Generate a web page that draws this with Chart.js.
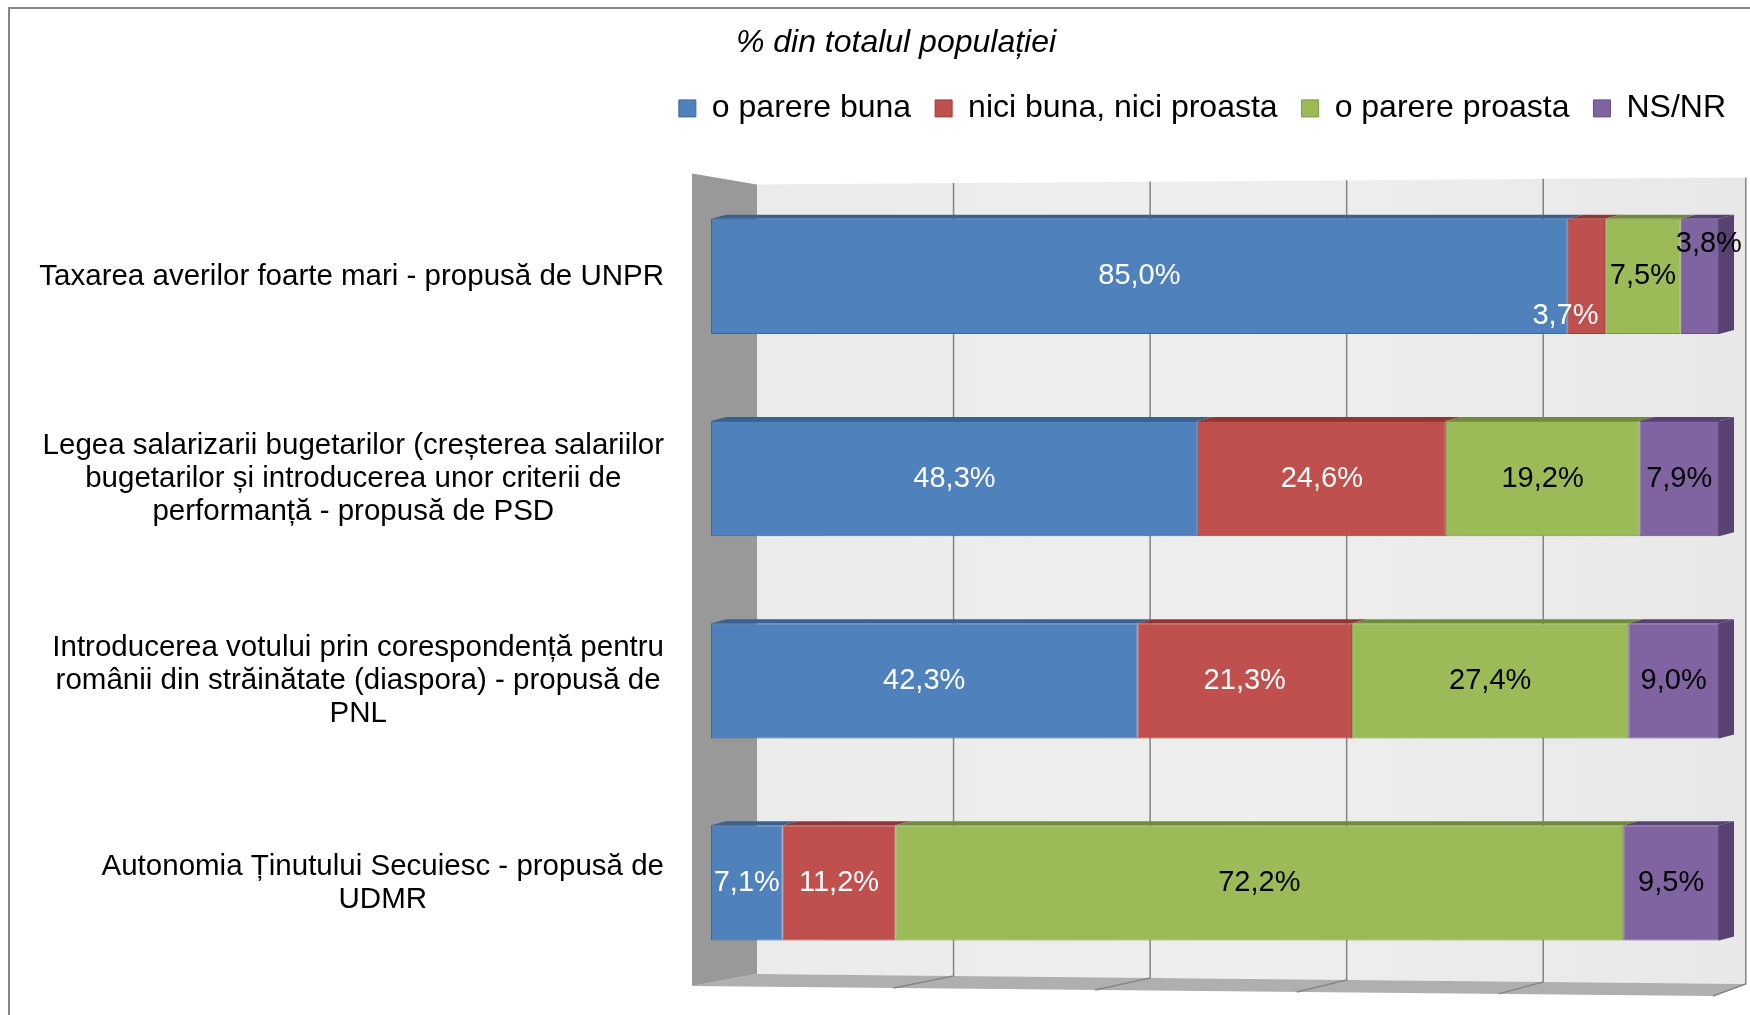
<!DOCTYPE html>
<html>
<head>
<meta charset="utf-8">
<script src="https://cdn.jsdelivr.net/npm/chart.js@4.4.0/dist/chart.umd.min.js"></script>
<style>
  html, body { margin: 0; padding: 0; background: #fff; }
</style>
</head>
<body>
<canvas id="chart" width="1750" height="1015"></canvas>
<script>
// ===== Data =====
const TITLE = '% din totalul populației';
const CATEGORIES = [
  ['Taxarea averilor foarte mari - propusă de UNPR'],
  ['Legea salarizarii bugetarilor (creșterea salariilor', 'bugetarilor și introducerea unor criterii de', 'performanță - propusă de PSD'],
  ['Introducerea votului prin corespondență pentru', 'românii din străinătate (diaspora) - propusă de', 'PNL'],
  ['Autonomia Ținutului Secuiesc - propusă de', 'UDMR']
];
const SERIES_NAMES   = ['o parere buna', 'nici buna, nici proasta', 'o parere proasta', 'NS/NR'];
const PARERE_BUNA    = [85.0, 48.3, 42.3, 7.1];
const NICI_NICI      = [3.7, 24.6, 21.3, 11.2];
const PARERE_PROASTA = [7.5, 19.2, 27.4, 72.2];
const NS_NR          = [3.8, 7.9, 9.0, 9.5];
const X_TICKS        = [0, 20, 40, 60, 80, 100];

// ===== Styles =====
const FONT = "'Liberation Sans', Arial, sans-serif";
const COLORS       = ['#4f81bd', '#c0504d', '#9bbb59', '#8064a2'];
const EDGE         = ['#3d679b', '#9c3d3a', '#7b9845', '#634c84'];
const SHADE        = ['#3a6190', '#8e3734', '#718b3e', '#574271'];
const LABEL_COLORS = ['#ffffff', '#ffffff', '#000000', '#000000'];
// small nudges for labels that Excel moved off-centre (dataset-row : [dx, dy])
const LABEL_NUDGE  = { '1-0': [-21, 40], '3-0': [9, -32] };

const fmt = v => v.toFixed(1).replace('.', ',') + '%';

// ---- outer frame ----
const framePlugin = {
  id: 'frame',
  beforeDraw(chart) {
    const { ctx } = chart;
    ctx.save();
    ctx.fillStyle = '#fff';
    ctx.fillRect(0, 0, chart.width, chart.height);
    ctx.strokeStyle = '#868686';
    ctx.lineWidth = 2;
    ctx.strokeRect(9, 8, chart.width + 20, chart.height + 20);
    ctx.restore();
  }
};

// ---- pseudo 3D walls, floor and gridlines ----
const wallsPlugin = {
  id: 'walls',
  beforeDatasetsDraw(chart) {
    const { ctx, chartArea: ca, scales } = chart;
    const xs = scales.x;
    const L = xs.getPixelForValue(0);
    const backL = L + 46;
    const backX = v => backL + (xs.getPixelForValue(v) - L) * 0.975;
    const backR = backX(100) + 6;
    const frontL = L - 19;
    const frontX = v => xs.getPixelForValue(v) - 19;
    const frontR = frontX(100) + 13;
    const lerp = (x, x0, y0, x1, y1) => y0 + (y1 - y0) * (x - x0) / (x1 - x0);
    const backTop = x => lerp(x, backL, ca.top + 9, backR, ca.top + 2);
    const backBot = x => lerp(x, backL, ca.bottom - 10, backR, ca.bottom);
    const frontBot = x => lerp(x, frontL, ca.bottom + 2, frontR, ca.bottom + 12);

    ctx.save();
    // back wall
    const g = ctx.createLinearGradient(backL, 0, backR, 0);
    g.addColorStop(0, '#ebebeb');
    g.addColorStop(0.5, '#eeeeee');
    g.addColorStop(1, '#e8e8e8');
    ctx.fillStyle = g;
    ctx.beginPath();
    ctx.moveTo(backL, backTop(backL));
    ctx.lineTo(backR, backTop(backR));
    ctx.lineTo(backR, backBot(backR));
    ctx.lineTo(backL, backBot(backL));
    ctx.closePath();
    ctx.fill();

    // floor
    ctx.fillStyle = '#afafaf';
    ctx.beginPath();
    ctx.moveTo(backL, backBot(backL));
    ctx.lineTo(backR, backBot(backR));
    ctx.lineTo(frontR, frontBot(frontR));
    ctx.lineTo(frontL, frontBot(frontL));
    ctx.closePath();
    ctx.fill();

    // left side wall
    ctx.fillStyle = '#999999';
    ctx.beginPath();
    ctx.moveTo(frontL, ca.top - 2);
    ctx.lineTo(backL, backTop(backL));
    ctx.lineTo(backL, backBot(backL));
    ctx.lineTo(frontL, frontBot(frontL));
    ctx.closePath();
    ctx.fill();

    // gridlines
    ctx.strokeStyle = '#858585';
    ctx.lineWidth = 1.5;
    X_TICKS.slice(1).forEach(v => {
      const bx = v === 100 ? backR : backX(v);
      const fx = v === 100 ? frontR : frontX(v);
      ctx.beginPath();
      ctx.moveTo(bx, backTop(bx));
      ctx.lineTo(bx, backBot(bx));
      ctx.lineTo(fx, frontBot(fx));
      ctx.stroke();
    });
    ctx.restore();
  }
};

// ---- bar depth faces + value labels ----
const barFacesPlugin = {
  id: 'barFaces',
  afterDatasetsDraw(chart) {
    const { ctx } = chart;
    const dx = 15, dy = 4;
    ctx.save();
    const n = chart.data.labels.length;
    for (let i = 0; i < n; i++) {
      let last = null;
      chart.data.datasets.forEach((ds, d) => {
        const el = chart.getDatasetMeta(d).data[i];
        const top = el.y - el.height / 2;
        ctx.fillStyle = SHADE[d];
        ctx.beginPath();
        ctx.moveTo(el.base, top);
        ctx.lineTo(el.x, top);
        ctx.lineTo(el.x + dx, top - dy);
        ctx.lineTo(el.base + dx, top - dy);
        ctx.closePath();
        ctx.fill();
        last = { el, d };
      });
      const el = last.el;
      const top = el.y - el.height / 2, bot = el.y + el.height / 2;
      ctx.fillStyle = SHADE[last.d];
      ctx.beginPath();
      ctx.moveTo(el.x, top);
      ctx.lineTo(el.x + dx, top - dy);
      ctx.lineTo(el.x + dx, bot - dy);
      ctx.lineTo(el.x, bot);
      ctx.closePath();
      ctx.fill();
    }

    ctx.font = '29px ' + FONT;
    ctx.textAlign = 'center';
    ctx.textBaseline = 'middle';
    chart.data.datasets.forEach((ds, d) => {
      chart.getDatasetMeta(d).data.forEach((el, i) => {
        const nudge = LABEL_NUDGE[d + '-' + i] || [0, 0];
        ctx.fillStyle = LABEL_COLORS[d];
        ctx.fillText(fmt(ds.data[i]), (el.x + el.base) / 2 + nudge[0], el.y + nudge[1]);
      });
    });
    ctx.restore();
  }
};

// ---- category labels, Excel style (block right aligned, lines centred) ----
const categoryLabelsPlugin = {
  id: 'categoryLabels',
  afterDraw(chart) {
    const { ctx, scales } = chart;
    const y = scales.y;
    const right = 664, lh = 33;
    ctx.save();
    ctx.font = '29.5px ' + FONT;
    ctx.fillStyle = '#000';
    ctx.textAlign = 'center';
    ctx.textBaseline = 'middle';
    CATEGORIES.forEach((lines, i) => {
      const yc = y.getPixelForValue(i);
      const w = Math.max(...lines.map(t => ctx.measureText(t).width));
      const cx = right - w / 2;
      lines.forEach((t, j) => {
        ctx.fillText(t, cx, yc + (j - (lines.length - 1) / 2) * lh);
      });
    });
    ctx.restore();
  }
};

const SERIES = [PARERE_BUNA, NICI_NICI, PARERE_PROASTA, NS_NR];

new Chart(document.getElementById('chart'), {
  type: 'bar',
  data: {
    labels: CATEGORIES,
    datasets: SERIES.map((vals, d) => ({
      label: SERIES_NAMES[d],
      data: vals,
      backgroundColor: COLORS[d],
      borderColor: EDGE[d],
      borderWidth: 1,
      borderSkipped: false,
      barPercentage: 0.57,
      categoryPercentage: 1
    }))
  },
  options: {
    responsive: false,
    animation: false,
    devicePixelRatio: 1,
    indexAxis: 'y',
    layout: { padding: { left: 42, right: 0, top: 0, bottom: 31 } },
    scales: {
      x: {
        type: 'linear', stacked: true, min: 0, max: 100, position: 'top',
        grid: { display: false }, ticks: { display: false }, border: { display: false },
        afterFit: s => { s.height = 41; }
      },
      y: {
        type: 'category', stacked: true, position: 'left',
        grid: { display: false }, ticks: { display: false }, border: { display: false },
        afterFit: s => { s.width = 669; }
      },
      yR: {
        type: 'category', position: 'right',
        grid: { display: false }, ticks: { display: false }, border: { display: false },
        afterFit: s => { s.width = 31; }
      }
    },
    plugins: {
      title: {
        display: true,
        text: TITLE,
        color: '#000',
        font: { family: FONT, size: 32, style: 'italic', weight: 'normal' },
        padding: { top: 24, bottom: 6 }
      },
      legend: {
        position: 'top',
        align: 'end',
        labels: {
          boxWidth: 17, boxHeight: 17, padding: 24,
          color: '#000',
          font: { family: FONT, size: 32 }
        }
      },
      tooltip: { enabled: false }
    }
  },
  plugins: [framePlugin, wallsPlugin, barFacesPlugin, categoryLabelsPlugin]
});
</script>
</body>
</html>
